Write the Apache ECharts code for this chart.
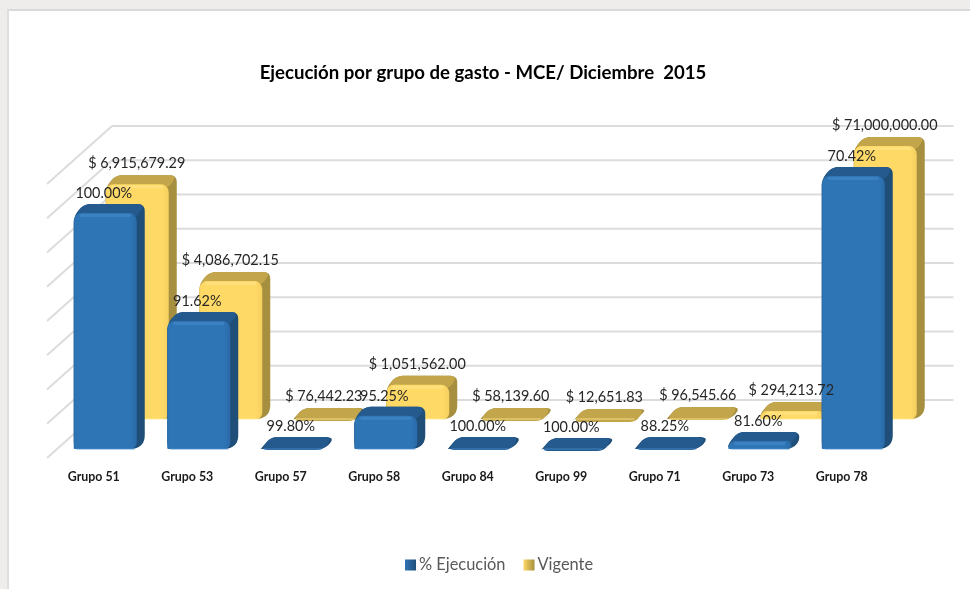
<!DOCTYPE html>
<html>
<head>
<meta charset="utf-8">
<title>Ejecución por grupo de gasto</title>
<style>
  html, body { margin: 0; padding: 0; background: #fff; }
  #chart { width: 970px; height: 589px; }
</style>
<script src="https://cdn.jsdelivr.net/npm/echarts@6/dist/echarts.min.js"></script>
</head>
<body>
<div id="chart"></div>
<script>
// datos (la altura va en unidades de la cuadricula, el eje original no se ve)
var grupos = ['Grupo 51', 'Grupo 53', 'Grupo 57', 'Grupo 58', 'Grupo 84', 'Grupo 99', 'Grupo 71', 'Grupo 73', 'Grupo 78'];
var alturaEjecucion = [7.15, 4.0, 0.35, 1.23, 0.35, 0.32, 0.35, 0.5, 8.23];
var alturaVigente = [7.12, 4.29, 0.32, 1.26, 0.32, 0.29, 0.35, 0.5, 8.23];
var textoEjecucion = ['100.00%', '91.62%', '99.80%', '95.25%', '100.00%', '100.00%', '88.25%', '81.60%', '70.42%'];
var textoVigente = ['$ 6,915,679.29', '$ 4,086,702.15', '$ 76,442.23', '$ 1,051,562.00', '$ 58,139.60', '$ 12,651.83', '$ 96,545.66', '$ 294,213.72', '$ 71,000,000.00'];
var marcas = [0, 1, 2, 3, 4, 5, 6, 7, 8];

var fuente = 'Lato, "Noto Sans", sans-serif';
var fondoX = 65, fondoY = 58; // profundidad de la pared del fondo

// redondea las esquinas de un poligono
function redondear(pts, r) {
  var out = [];
  for (var i = 0; i < pts.length; i++) {
    var p = pts[i], a = pts[(i + pts.length - 1) % pts.length], b = pts[(i + 1) % pts.length];
    var la = Math.hypot(a[0] - p[0], a[1] - p[1]), lb = Math.hypot(b[0] - p[0], b[1] - p[1]);
    var ra = Math.min(r, la / 2), rb = Math.min(r, lb / 2);
    var s = [p[0] + (a[0] - p[0]) * ra / la, p[1] + (a[1] - p[1]) * ra / la];
    var e = [p[0] + (b[0] - p[0]) * rb / lb, p[1] + (b[1] - p[1]) * rb / lb];
    for (var k = 0; k <= 5; k++) {
      var t = k / 5;
      out.push([
        (1 - t) * (1 - t) * s[0] + 2 * t * (1 - t) * p[0] + t * t * e[0],
        (1 - t) * (1 - t) * s[1] + 2 * t * (1 - t) * p[1] + t * t * e[1]
      ]);
    }
  }
  return out;
}

// barra con aspecto 3D
function barra(desX, desY, col) {
  return function (params, api) {
    var i = api.value(0);
    var p0 = api.coord([i, 0]), p1 = api.coord([i, api.value(1)]);
    var x = p0[0] + desX, base = p0[1] - desY, top = p1[1] - desY;
    var w = 63, lado = 8, capX = 10, capY = 12;
    var frente = base - top - capY;
    var hijos = [{
      type: 'polygon',
      shape: { points: redondear([[x, base], [x, top + capY], [x + capX, top], [x + w + lado, top], [x + w + lado, base - 7], [x + w, base]], 7) },
      style: { fill: col.lado }
    }, {
      type: 'polygon',
      shape: { points: redondear([[x, top + capY + 1], [x + capX, top], [x + w + lado, top], [x + w, top + capY + 1]], 7) },
      style: { fill: col.tapa }
    }];
    if (frente > 1) {
      hijos.push({
        type: 'rect',
        shape: { x: x, y: top + capY - 3, width: w, height: frente + 3, r: [8, 8, 6, 1] },
        style: {
          fill: new echarts.graphic.LinearGradient(1, 0, 0, 0, [
            { offset: 0, color: col.borde },
            { offset: 0.1, color: col.frente },
            { offset: 0.97, color: col.frente },
            { offset: 1, color: col.borde }
          ])
        }
      });
      hijos.push({
        type: 'rect',
        shape: { x: x + 6, y: top + capY - 2, width: w - 12, height: 3, r: 1 },
        style: { fill: col.luz, opacity: 0.5 }
      });
    }
    hijos.push({
      type: 'line',
      shape: { x1: x + 3, y1: base, x2: x + w - 2, y2: base },
      style: { stroke: col.luz, lineWidth: 1, opacity: 0.8 }
    });
    return { type: 'group', children: hijos };
  };
}

// el original usa una letra mas estrecha, por eso el scaleX
function etiqueta(desX, desY, arriba, textos) {
  return function (params, api) {
    var i = api.value(0);
    var p0 = api.coord([i, 0]), p1 = api.coord([i, api.value(1)]);
    return {
      type: 'text',
      x: p0[0] + desX,
      y: p1[1] - desY - arriba,
      scaleX: 0.9,
      style: {
        text: textos[i], fill: '#262626',
        font: '16px ' + fuente,
        align: 'center', verticalAlign: 'middle'
      }
    };
  };
}

function pares(arr) {
  return arr.map(function (v, i) { return [i, v]; });
}

var azul = { frente: '#2e75b6', borde: '#2a6aa8', lado: '#1f4e79', tapa: '#245a8e', luz: '#4a8fd0' };
var oro = { frente: '#ffd966', borde: '#f4cf5f', lado: '#a68f3f', tapa: '#c3a64c', luz: '#ffe88f' };

var myChart = echarts.init(document.getElementById('chart'));

var option = {
  backgroundColor: '#ffffff',
  animation: false,
  title: {
    text: 'Ejecución por grupo de gasto - MCE/ Diciembre  2015',
    left: 478, top: 58, textAlign: 'center',
    textStyle: { fontFamily: fuente, fontSize: 18.6, fontWeight: 'bold', color: '#000' }
  },
  legend: {
    data: [
      { name: '% Ejecución', itemStyle: { color: new echarts.graphic.LinearGradient(0, 0, 1, 0, [{ offset: 0, color: '#2e75b6' }, { offset: 1, color: '#1f4e79' }]) } },
      { name: 'Vigente', itemStyle: { color: new echarts.graphic.LinearGradient(0, 0, 1, 0, [{ offset: 0, color: '#ffd966' }, { offset: 1, color: '#a68f3f' }]) } }
    ],
    left: 400, top: 552,
    icon: 'rect',
    itemWidth: 11, itemHeight: 11, itemGap: 18,
    textStyle: { fontFamily: fuente, fontSize: 16.4, color: '#595959', padding: [0, 0, 0, -2] }
  },
  grid: { left: 47, right: 81.5, top: 184, bottom: 131 },
  xAxis: {
    type: 'category',
    data: grupos,
    axisLine: { show: false },
    axisTick: { show: false },
    axisLabel: { margin: 13, fontFamily: fuente, fontSize: 12.4, fontWeight: 'bold', color: '#1a1a1a' }
  },
  yAxis: {
    type: 'value', min: 0, max: 8, interval: 1,
    axisLine: { show: false }, axisTick: { show: false },
    axisLabel: { show: false }, splitLine: { show: false }
  },
  graphic: [{
    type: 'group', silent: true, z: -10,
    children: [
      { type: 'rect', shape: { x: 0, y: 0, width: 970, height: 9 }, style: { fill: '#eeedeb' } },
      { type: 'rect', shape: { x: 0, y: 0, width: 7, height: 589 }, style: { fill: '#eeedeb' } },
      { type: 'rect', shape: { x: 7, y: 9, width: 963, height: 2 }, style: { fill: '#d9d9d9' } },
      { type: 'rect', shape: { x: 7, y: 9, width: 2, height: 580 }, style: { fill: '#dedede' } }
    ]
  }],
  series: [{
    // pared del fondo y pared lateral
    name: 'pared', type: 'custom', silent: true, z: 1,
    data: marcas.map(function (m) { return [0, m]; }),
    renderItem: function (params, api) {
      var y = api.coord([0, api.value(1)])[1];
      var g = params.coordSys;
      var linea = { stroke: '#dcdcdc', lineWidth: 2 };
      return {
        type: 'group',
        children: [
          { type: 'line', shape: { x1: g.x, y1: y, x2: g.x + fondoX, y2: y - fondoY }, style: linea },
          { type: 'line', shape: { x1: g.x + fondoX, y1: y - fondoY, x2: g.x + g.width + fondoX, y2: y - fondoY }, style: linea }
        ]
      };
    },
    encode: { x: 0, y: 1 }
  }, {
    name: 'Vigente', type: 'custom', z: 2,
    itemStyle: { color: '#d9b84f' },
    data: pares(alturaVigente),
    renderItem: barra(12, 39, oro),
    encode: { x: 0, y: 1 }
  }, {
    name: '% Ejecución', type: 'custom', z: 3,
    itemStyle: { color: '#245f9c' },
    data: pares(alturaEjecucion),
    renderItem: barra(-20, 9, azul),
    encode: { x: 0, y: 1 }
  }, {
    name: 'etiquetaVigente', type: 'custom', z: 4, silent: true,
    data: pares(alturaVigente),
    renderItem: etiqueta(43, 39, 12, textoVigente),
    encode: { x: 0, y: 1 }
  }, {
    name: 'etiquetaEjecucion', type: 'custom', z: 4, silent: true,
    data: pares(alturaEjecucion),
    renderItem: etiqueta(10, 9, 11, textoEjecucion),
    encode: { x: 0, y: 1 }
  }]
};

myChart.setOption(option);
</script>
</body>
</html>
